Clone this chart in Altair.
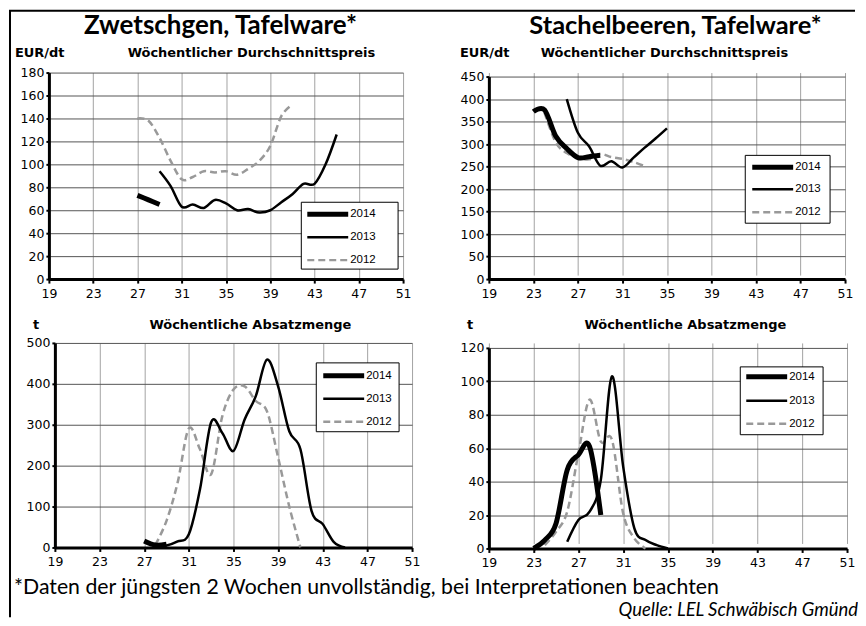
import altair as alt
import pandas as pd

years = ["2014", "2013", "2012"]
x_ticks = [19, 23, 27, 31, 35, 39, 43, 47, 51]

# Zwetschgen, Durchschnittspreis (EUR/dt)
zp_2014_weeks = list(range(27, 30))
zp_2014 = [73, 69, 65]
zp_2013_weeks = list(range(29, 46))
zp_2013 = [94, 81, 63, 65, 62, 69, 66, 60, 61, 58, 60, 67, 74, 83, 83, 100, 126]
zp_2012_weeks = list(range(27, 42))
zp_2012 = [140, 138, 123, 103, 87, 89, 94, 93, 94, 91, 96, 103, 116, 142, 152]

# Stachelbeeren, Durchschnittspreis (EUR/dt)
sp_2014_weeks = list(range(23, 30))
sp_2014 = [372, 376, 318, 290, 270, 272, 275]
sp_2013_weeks = list(range(26, 36))
sp_2013 = [400, 325, 295, 252, 262, 248, 270, 292, 313, 335]
sp_2012_weeks = list(range(24, 34))
sp_2012 = [370, 304, 280, 270, 266, 278, 271, 267, 260, 251]

# Zwetschgen, Absatzmenge (t)
zv_2014_weeks = list(range(27, 30))
zv_2014 = [16, 6, 8]
zv_2013_weeks = list(range(28, 46))
zv_2013 = [5, 5, 15, 32, 142, 306, 280, 236, 313, 370, 459, 394, 284, 240, 89, 57, 13, 0]
zv_2012_weeks = list(range(28, 42))
zv_2012 = [6, 65, 159, 291, 240, 179, 321, 386, 394, 358, 333, 220, 100, 0]

# Stachelbeeren, Absatzmenge (t)
sv_2014_weeks = list(range(23, 30))
sv_2014 = [0, 5, 15, 47, 56, 61, 20]
sv_2013_weeks = list(range(26, 36))
sv_2013 = [4, 17, 22, 41, 103, 49, 12, 5, 2, 0]
sv_2012_weeks = list(range(24, 34))
sv_2012 = [2, 10, 22, 57, 89, 64, 65, 21, 6, 0]

AX = "DejaVu Sans"
LG = "Liberation Sans"
TF = "Lato"

STY = {
    "2014": dict(color="#000000", strokeWidth=5),
    "2013": dict(color="#000000", strokeWidth=2.5),
    "2012": dict(color="#999999", strokeWidth=2.5, strokeDash=[7, 4]),
}

ONE = pd.DataFrame({"k": [0]})


def series_df(weeks, vals):
    return pd.DataFrame({"week": weeks, "value": vals})


def txt(s, x, y, size, font=AX, weight="bold", align="left", baseline="middle", style="normal"):
    return alt.Chart(ONE).mark_text(
        text=s, font=font, fontSize=size, fontWeight=weight, align=align,
        baseline=baseline, fontStyle=style, color="#000000"
    ).encode(x=alt.value(x), y=alt.value(y))


def legend(bx1, by1, bx2, by2, lx1, lx2, tx, rows):
    layers = [alt.Chart(ONE).mark_rect(fill="white", stroke="black", strokeWidth=1).encode(
        x=alt.value(bx1), x2=alt.value(bx2), y=alt.value(by1), y2=alt.value(by2))]
    for yr, ry in zip(years, rows):
        layers.append(alt.Chart(ONE).mark_rule(**STY[yr]).encode(
            x=alt.value(lx1), x2=alt.value(lx2), y=alt.value(ry)))
        layers.append(txt(yr, tx, ry, 11.5, font=LG, weight="normal"))
    return layers


def panel(series, ymax, ystep, w, h, xrange=None, yrange=None, yoffset=0, extras=()):
    xs = dict(domain=[19, 51], nice=False, zero=False)
    if xrange:
        xs["range"] = xrange
    ys = dict(domain=[0, ymax], nice=False)
    if yrange:
        ys["range"] = yrange
    xe = alt.X("week:Q", scale=alt.Scale(**xs), axis=alt.Axis(
        values=x_ticks, title=None, grid=True, gridColor="#a3a3a3", gridWidth=1,
        domainColor="#000000", domainWidth=3, tickColor="#000000", tickSize=4, tickWidth=2,
        labelFont=AX, labelFontSize=12.5, labelColor="#000000", labelPadding=4,
        labelFlush=False, labelOverlap=False))
    ye = alt.Y("value:Q", scale=alt.Scale(**ys), axis=alt.Axis(
        values=list(range(0, ymax + 1, ystep)), title=None, grid=True, gridColor="#555555",
        gridWidth=1, domainColor="#000000", domainWidth=3, tickColor="#000000", tickSize=3,
        tickWidth=2, labelFont=AX, labelFontSize=12.5, labelColor="#000000", labelPadding=2,
        labelFlush=False, labelOverlap=False, offset=yoffset))
    layers = []
    for yr in ["2012", "2013", "2014"]:
        wk, vals = series[yr]
        layers.append(alt.Chart(series_df(wk, vals)).mark_line(
            interpolate="cardinal", **STY[yr]).encode(x=xe, y=ye))
    layers.extend(extras)
    return alt.layer(*layers).properties(width=w, height=h)


p1 = panel(
    {"2014": (zp_2014_weeks, zp_2014), "2013": (zp_2013_weeks, zp_2013), "2012": (zp_2012_weeks, zp_2012)},
    180, 20, 355, 207,
    extras=[
        alt.Chart(ONE).mark_rule(color="black", strokeWidth=2).encode(
            x=alt.value(-39), y=alt.value(-62), y2=alt.value(546)),
        alt.Chart(ONE).mark_rule(color="black", strokeWidth=2).encode(
            x=alt.value(-40), x2=alt.value(808), y=alt.value(-62)),
        txt("Zwetschgen, Tafelware*", 172, -39, 26, font=TF, baseline="alphabetic", align="center"),
        txt("EUR/dt", -34, -20, 13),
        txt("Wöchentlicher Durchschnittspreis", 203, -20, 13, align="center"),
    ] + legend(253, 130, 350, 197, 259, 300, 302, [142, 165, 188]),
)

p2 = panel(
    {"2014": (sp_2014_weeks, sp_2014), "2013": (sp_2013_weeks, sp_2013), "2012": (sp_2012_weeks, sp_2012)},
    450, 50, 357, 207, yrange=[207, 4],
    extras=[
        txt("Stachelbeeren, Tafelware*", 187, -39, 25.5, font=TF, baseline="alphabetic", align="center"),
        txt("EUR/dt", -29, -20, 13),
        txt("Wöchentlicher Durchschnittspreis", 176, -20, 13, align="center"),
    ] + legend(257, 83, 342, 151, 264, 305, 307, [95, 117, 140]),
)

p3 = panel(
    {"2014": (zv_2014_weeks, zv_2014), "2013": (zv_2013_weeks, zv_2013), "2012": (zv_2012_weeks, zv_2012)},
    500, 100, 364, 205, xrange=[6, 364], yoffset=-6,
    extras=[
        txt("t", -16, -18, 13),
        txt("Wöchentliche Absatzmenge", 202, -18, 13, align="center"),
        txt("*Daten der jüngsten 2 Wochen unvollständig, bei Interpretationen beachten",
            -35, 252, 21.3, font=TF, weight="normal", baseline="alphabetic"),
    ] + legend(268, 20, 351, 89, 275, 316, 318, [33, 56, 79]),
)

p4 = panel(
    {"2014": (sv_2014_weeks, sv_2014), "2013": (sv_2013_weeks, sv_2013), "2012": (sv_2012_weeks, sv_2012)},
    120, 20, 359, 206, yrange=[206, 5],
    extras=[
        txt("t", -22, -18, 13),
        txt("Wöchentliche Absatzmenge", 197, -18, 13, align="center"),
        txt("Quelle: LEL Schwäbisch Gmünd", 370, 274, 18.5, font=TF, weight="normal",
            baseline="alphabetic", align="right", style="italic"),
    ] + legend(252, 24, 335, 92, 258, 299, 301, [34, 58, 81]),
)

chart = alt.concat(
    p1, p2, p3, p4, columns=2, spacing={"row": 64, "column": 77}, bounds="flush"
).properties(
    padding={"left": 0, "top": 1, "right": 0, "bottom": 0}, background="white"
).configure_view(stroke=None)

chart.save("out.html", embed_options={"renderer": "svg", "actions": False})
